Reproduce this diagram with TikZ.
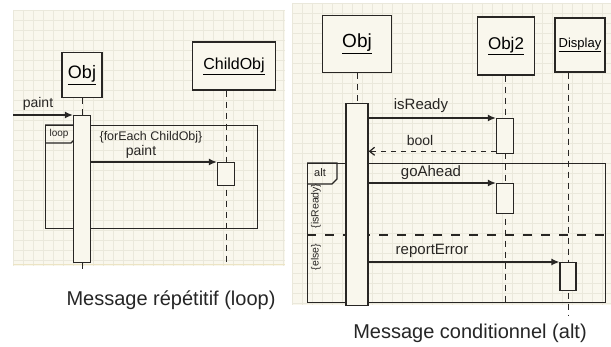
\documentclass[tikz,border=0pt]{standalone}
\usepackage{fontspec}
\setmainfont{Liberation Sans}
\usetikzlibrary{arrows.meta,calc}
\definecolor{paper}{RGB}{249,247,237}
\definecolor{gridc}{RGB}{234,232,219}
\definecolor{edgec}{RGB}{236,228,196}
\definecolor{ink}{RGB}{40,38,36}
\newcommand\fsz[1]{\fontsize{#1}{#1}\selectfont}
\begin{document}
\begin{tikzpicture}[x=1pt,y=-1pt,
  objbox/.style={draw=ink, line width=1.4pt, fill=paper, inner sep=0pt},
  act/.style={draw=ink, line width=1.3pt, fill=paper, anchor=north, minimum width=17pt, inner sep=0pt},
  life/.style={draw=ink, line width=1pt, dash pattern=on 6pt off 5pt},
  msg/.style={draw=ink, line width=1.3pt, -{Latex[length=8pt,width=7pt]}},
  ret/.style={draw=ink, line width=1.2pt, dash pattern=on 5pt off 5pt, -{Straight Barb[length=5pt,width=8pt]}},
  frm/.style={draw=ink, line width=1.3pt, anchor=north west, inner sep=0pt},
  lbl/.style={text=ink, inner sep=1pt},
  captxt/.style={text=black!85, font=\fsz{20}}
]
\useasboundingbox (0,0) rectangle (611,347);
\fill[white] (0,0) rectangle (611,347);
% paper sheets
\fill[paper] (13,10) rectangle (285,266);
\fill[paper] (292,3) rectangle (611,305);
\begin{scope}
\clip (13,10) rectangle (285,266);
\foreach \i in {0,...,28} {\draw[gridc, line width=0.35pt] (13+10*\i,10) -- (13+10*\i,266);}
\foreach \j in {0,...,26} {\draw[gridc, line width=0.35pt] (13,10+10*\j) -- (285,10+10*\j);}
\end{scope}
\begin{scope}
\clip (292,3) rectangle (611,305);
\foreach \i in {0,...,32} {\draw[gridc, line width=0.35pt] (292+10*\i,3) -- (292+10*\i,305);}
\foreach \j in {0,...,30} {\draw[gridc, line width=0.35pt] (292,3+10*\j) -- (611,3+10*\j);}
\end{scope}
\draw[edgec, line width=0.8pt] (13,264) -- (285,264);

% ===== left: loop =====
\node[objbox, minimum width=40pt, minimum height=45pt, font=\fsz{18}] (lobj) at (82,75) {\underline{Obj}};
\node[objbox, minimum width=83pt, minimum height=48pt, font=\fsz{16}] (cobj) at (234,66) {\underline{ChildObj}};
\coordinate (lend) at (82,270);
\coordinate (cend) at (226,266);
\draw[life] (lobj.south) -- (lend);
\draw[life] (cobj.south -| cend) -- (cend);
\node[frm, minimum width=212pt, minimum height=103pt] (loop) at (45,125) {};
\draw[draw=ink, line width=1.3pt] (loop.north west) -- ++(31,0) -- ++(0,13) -- ++(-5,5) -- ++(-26,0);
\node[lbl, font=\fsz{10}] at (59,134) {loop};
\node[act, minimum height=147pt] (lact) at (82,115) {};
\node[act, minimum height=23pt] (cact) at (226,162) {};
\coordinate (pin) at (13,115);
\draw[msg] (pin) -- (lact.north west);
\node[lbl, font=\fsz{14}] at (38,104) {paint};
\node[lbl, font=\fsz{12.5}] at (151,137) {\{forEach ChildObj\}};
\draw[msg] (lact.east |- cact.north) -- (cact.north west);
\node[lbl, font=\fsz{14}] at (141,152) {paint};
\node[captxt] at (171,300) {Message répétitif (loop)};

% ===== right: alt =====
\node[objbox, minimum width=69pt, minimum height=57pt, font=\fsz{19}] (robj) at (357,44) {\underline{Obj}};
\node[objbox, minimum width=57pt, minimum height=58pt, font=\fsz{17}] (obj2) at (506,46) {\underline{Obj2}};
\node[objbox, minimum width=50pt, minimum height=54pt, font=\fsz{13}] (disp) at (580,45) {\underline{Display}};
\coordinate (rend) at (357,306);
\coordinate (o2end) at (505,304);
\coordinate (dend) at (568,316);
\draw[life] (robj.south) -- (rend);
\draw[life] (obj2.south -| o2end) -- (o2end);
\draw[life] (disp.south -| dend) -- (dend);
\node[frm, minimum width=298pt, minimum height=139pt] (alt) at (307,163) {};
\draw[draw=ink, line width=1.3pt] (alt.north west) -- ++(30,0) -- ++(0,16) -- ++(-5,5) -- ++(-25,0);
\node[lbl, font=\fsz{11}] at (320,173) {alt};
\coordinate (sepL) at (307,235);
\draw[draw=ink, line width=1.3pt, dash pattern=on 9pt off 9pt] (sepL) -- (sepL -| alt.east);
\node[lbl, font=\fsz{10.5}, rotate=90] at (316,206) {\{isReady\}};
\node[lbl, font=\fsz{10.5}, rotate=90] at (316,257) {\{else\}};
\node[act, minimum height=202pt, minimum width=22pt] (ract) at (357,103) {};
\node[act, minimum height=35pt] (o2a) at (505,118) {};
\node[act, minimum height=30pt] (o2b) at (505,183) {};
\node[act, minimum height=28pt, minimum width=16pt] (dact) at (568,262) {};
\draw[msg] (ract.east |- o2a.north) -- (o2a.north west);
\node[lbl, font=\fsz{15}] at (421,106) {isReady};
\coordinate (bret) at ($(o2a.south west)+(0,-3)$);
\draw[ret] (bret) -- (ract.east |- bret);
\node[lbl, font=\fsz{14}] at (420,140) {bool};
\draw[msg] (ract.east |- o2b.north) -- (o2b.north west);
\node[lbl, font=\fsz{15}] at (431,173) {goAhead};
\draw[msg] (ract.east |- dact.north) -- (dact.north west);
\node[lbl, font=\fsz{15}] at (432,251) {reportError};
\node[captxt] at (470,333) {Message conditionnel (alt)};
\end{tikzpicture}
\end{document}
